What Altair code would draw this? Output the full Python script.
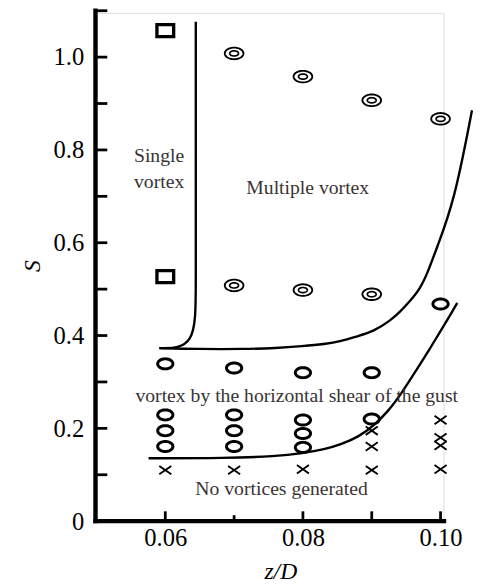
import math
import altair as alt
import pandas as pd

# ---------------- data ----------------
# Single vortex (open rectangles)
square_x = [0.06, 0.06]
square_y = [1.057, 0.527]
# Multiple vortex (double circles)
multi_x = [0.07, 0.08, 0.09, 0.10, 0.07, 0.08, 0.09]
multi_y = [1.008, 0.958, 0.907, 0.867, 0.508, 0.498, 0.489]
# Vortex by the horizontal shear of the gust (open circles)
shear_x = [0.06, 0.06, 0.06, 0.06, 0.07, 0.07, 0.07, 0.07,
           0.08, 0.08, 0.08, 0.08, 0.09, 0.09, 0.10]
shear_y = [0.339, 0.229, 0.195, 0.161, 0.330, 0.229, 0.195, 0.161,
           0.320, 0.218, 0.189, 0.159, 0.320, 0.220, 0.468]
# No vortices generated (crosses)
none_x = [0.06, 0.07, 0.08, 0.09, 0.09, 0.09, 0.10, 0.10, 0.10, 0.10]
none_y = [0.110, 0.110, 0.112, 0.195, 0.161, 0.110, 0.218, 0.180, 0.163, 0.112]

# Boundary: single / multiple vortex (control points)
bA_x = [0.06443, 0.06443, 0.06443, 0.06443, 0.05914]
bA_y = [1.0763, 0.8000, 0.4980, 0.3729, 0.3729]
# Boundary: multiple vortex / horizontal shear
bB_x = [0.05914, 0.06457, 0.07171, 0.07600, 0.08000, 0.08314, 0.08557, 0.08786,
        0.09029, 0.09271, 0.09414, 0.09557, 0.09700, 0.09814, 0.09929, 0.10200, 0.10457]
bB_y = [0.3729, 0.3708, 0.3708, 0.3729, 0.3771, 0.3814, 0.3877, 0.3983,
        0.4089, 0.4322, 0.4513, 0.4746, 0.5000, 0.5360, 0.5826, 0.6886, 0.8856]
# Boundary: horizontal shear / no vortices
bC_x = [0.05757, 0.06886, 0.07600, 0.08000, 0.08314, 0.08557, 0.08814, 0.09029,
        0.09243, 0.09443, 0.09643, 0.09843, 0.09986, 0.10129, 0.10243]
bC_y = [0.1356, 0.1356, 0.1398, 0.1462, 0.1547, 0.1653, 0.1822, 0.2055,
        0.2373, 0.2775, 0.3242, 0.3708, 0.4068, 0.4407, 0.4703]

# Region labels
ann_text = ["Single", "vortex", "Multiple vortex",
            "vortex by the horizontal shear of the gust", "No vortices generated"]
ann_x = [0.0591, 0.0591, 0.0807, 0.0791, 0.0769]
ann_y = [0.774, 0.719, 0.704, 0.257, 0.057]

# Axis ticks / axis extent
x_label_vals = [0.06, 0.08, 0.10]
x_ticks_long = [0.06, 0.08, 0.09, 0.10]
x_ticks_short = [0.07]
y_label_vals = [0, 0.2, 0.4, 0.6, 0.8, 1.0]
y_ticks = [0.1, 0.2, 0.3, 0.4, 0.5, 0.6, 0.7, 0.8, 0.9, 1.0, 1.1]
x_axis_span = [0.049857, 0.1005]
y_axis_span = [0.0, 1.1]

# ---------------- chart ----------------
W, H = 354, 517
FONT = "Liberation Serif"


def ellipse(ry, n=48):
    pts = [(math.cos(2 * math.pi * k / n), ry * math.sin(2 * math.pi * k / n)) for k in range(n)]
    return "M" + "L".join(f"{a:.4f},{b:.4f}" for a, b in pts) + "Z"


RECT = "M-1,-0.72L1,-0.72L1,0.72L-1,0.72Z"
CROSS = "M-1,-0.7L1,0.7M-1,0.7L1,-0.7"

xscale = alt.Scale(domain=[0.049857, 0.100429], nice=False, zero=False)
yscale = alt.Scale(domain=[0, 1.0953], nice=False, zero=False)

X = alt.X("x:Q", scale=xscale, axis=alt.Axis(
    values=x_label_vals, format=".2f", ticks=False, tickSize=0, grid=False, domain=False,
    labelFont=FONT, labelFontSize=25, labelColor="black", labelPadding=5,
    title="z/D", titleFont=FONT, titleFontSize=24, titleFontStyle="italic",
    titleFontWeight="normal", titleColor="black",
    titleX=188, titleY=58, titleAlign="center", titleBaseline="alphabetic"))
Y = alt.Y("y:Q", scale=yscale, axis=alt.Axis(
    values=y_label_vals, labelExpr="datum.value == 0 ? '0' : format(datum.value, '.1f')",
    ticks=False, tickSize=0, grid=False, domain=False,
    labelFont=FONT, labelFontSize=25, labelColor="black", labelPadding=12,
    title="S", titleFont=FONT, titleFontSize=24, titleFontStyle="italic",
    titleFontWeight="normal", titleColor="black", titleAngle=270,
    titleX=-64, titleY=257, titleAlign="center", titleBaseline="middle"))


def pts(xs, ys):
    return pd.DataFrame({"x": xs, "y": ys})


def curve(xs, ys):
    return pd.DataFrame({"x": xs, "y": ys, "i": list(range(len(xs)))})


layers = []

# axis lines (thick)
layers.append(alt.Chart(pd.DataFrame({"y": [y_axis_span[1]], "y2": [y_axis_span[0]]})).mark_rule(
    color="black", strokeWidth=4.5, strokeCap="square").encode(
    y=Y, y2="y2:Q", x=alt.value(0)))
layers.append(alt.Chart(pd.DataFrame({"x": [x_axis_span[0]], "x2": [x_axis_span[1]]})).mark_rule(
    color="black", strokeWidth=4.5, strokeCap="square").encode(
    x=X, x2="x2:Q", y=alt.value(H)))

# tick marks pointing inward
layers.append(alt.Chart(pd.DataFrame({"y": y_ticks})).mark_rule(
    color="black", strokeWidth=2.8).encode(y=Y, x=alt.value(0), x2=alt.value(12)))
layers.append(alt.Chart(pd.DataFrame({"x": x_ticks_long})).mark_rule(
    color="black", strokeWidth=2.8).encode(x=X, y=alt.value(H), y2=alt.value(H - 10)))
layers.append(alt.Chart(pd.DataFrame({"x": x_ticks_short})).mark_rule(
    color="black", strokeWidth=2.8).encode(x=X, y=alt.value(H), y2=alt.value(H - 6)))

# boundaries
for bx, by in [(bA_x, bA_y), (bB_x, bB_y), (bC_x, bC_y)]:
    layers.append(alt.Chart(curve(bx, by)).mark_line(
        color="black", strokeWidth=2.4, interpolate="basis").encode(
        x=X, y=Y, order=alt.Order("i:Q")))

# markers
layers.append(alt.Chart(pts(square_x, square_y)).mark_point(
    shape=RECT, size=289, filled=False, strokeWidth=3.4, color="black", opacity=1).encode(x=X, y=Y))
layers.append(alt.Chart(pts(multi_x, multi_y)).mark_point(
    shape=ellipse(0.62), size=361, filled=False, strokeWidth=1.9, color="black", opacity=1).encode(x=X, y=Y))
layers.append(alt.Chart(pts(multi_x, multi_y)).mark_point(
    shape=ellipse(0.58), size=81, filled=False, strokeWidth=1.7, color="black", opacity=1).encode(x=X, y=Y))
layers.append(alt.Chart(pts(shear_x, shear_y)).mark_point(
    shape=ellipse(0.66), size=240, filled=False, strokeWidth=3.0, color="black", opacity=1).encode(x=X, y=Y))
layers.append(alt.Chart(pts(none_x, none_y)).mark_point(
    shape=CROSS, size=150, filled=False, strokeWidth=1.9, color="black", opacity=1).encode(x=X, y=Y))

# region labels
layers.append(alt.Chart(pd.DataFrame({"x": ann_x, "y": ann_y, "t": ann_text})).mark_text(
    font=FONT, fontSize=20, color="#3a3333", align="center", baseline="alphabetic").encode(
    x=X, y=Y, text="t:N"))

chart = alt.layer(*layers).properties(
    width=W, height=H,
    autosize=alt.AutoSizeParams(type="none"),
    padding={"left": 89, "top": 0, "right": 30, "bottom": 62},
).configure_view(stroke=None).configure(background="white")

chart.save("out.html", embed_options={"renderer": "svg", "actions": False})
